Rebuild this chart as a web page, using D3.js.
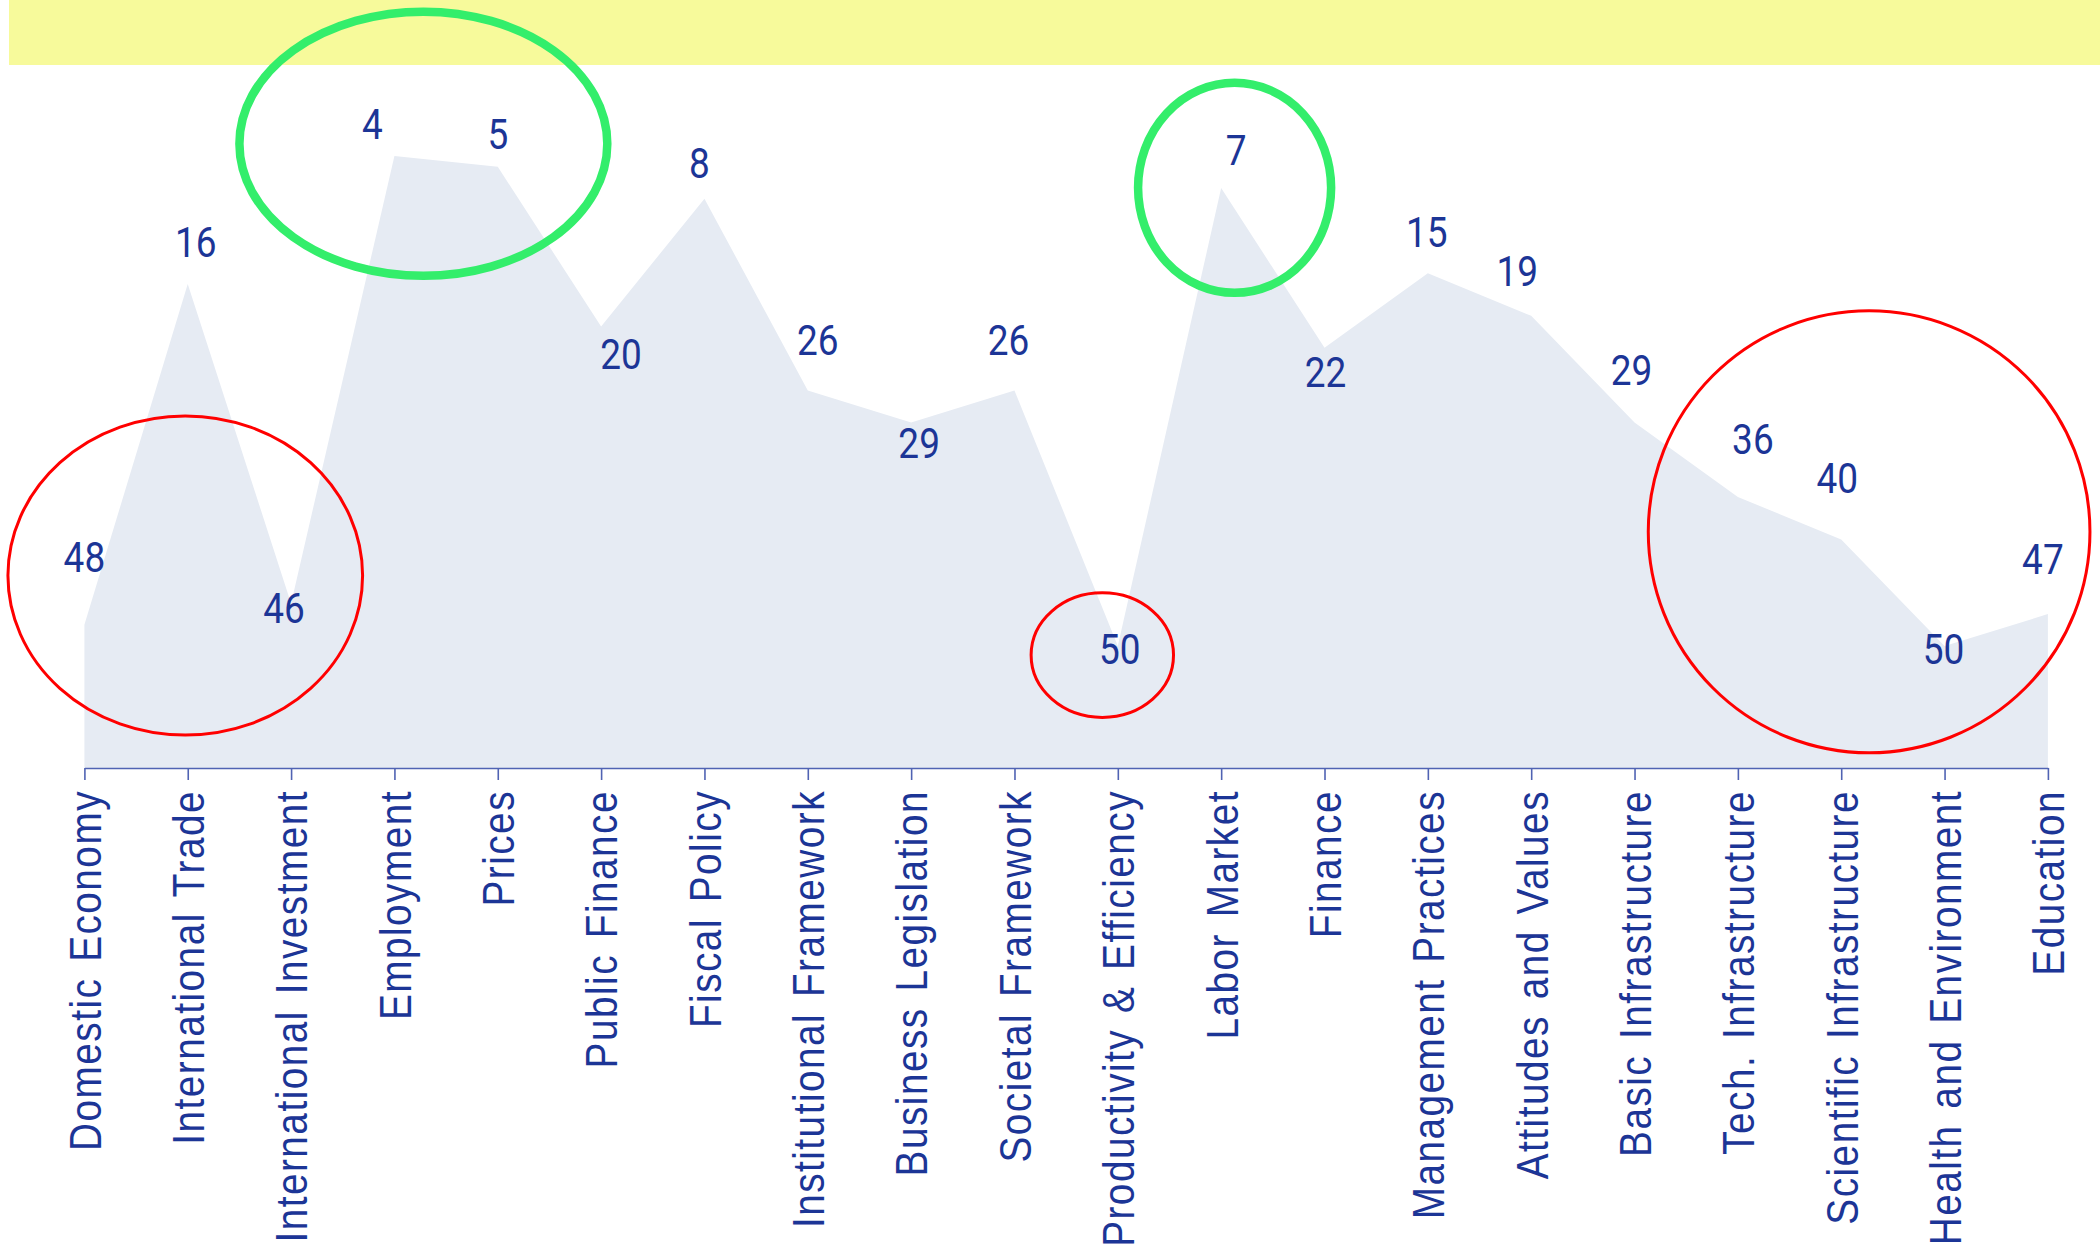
<!DOCTYPE html>
<html>
<head>
<meta charset="utf-8">
<script src="https://cdn.jsdelivr.net/npm/d3@7"></script>
<style>
  html, body { margin: 0; padding: 0; background: #ffffff; }
  svg { display: block; }
</style>
</head>
<body>
<svg id="chart" width="2100" height="1253"></svg>
<script>
// ---- data ----
const categories = [
  "Domestic Economy", "International Trade", "International Investment", "Employment",
  "Prices", "Public Finance", "Fiscal Policy", "Institutional Framework",
  "Business Legislation", "Societal Framework", "Productivity & Efficiency", "Labor Market",
  "Finance", "Management Practices", "Attitudes and Values", "Basic Infrastructure",
  "Tech. Infrastructure", "Scientific Infrastructure", "Health and Environment", "Education"
];
const ranks = [48, 16, 46, 4, 5, 20, 8, 26, 29, 26, 50, 7, 22, 15, 19, 29, 36, 40, 50, 47];

// label placement (layout only)
const labelSide = ["above","above","below","above","above","below","above","above","below","above",
                   "below","above","below","above","above","above","above","above","below","above"];
const labelDx = [0, 8, -7, -22, 0, 20, -5, 10, 8, -6, 2, 15, 1, -1, -14, -3, 15, -4, -1, -5];
const labelDy = [0, 0, -2, 0, 0, 0, 0, 0, 0, 0, 0, -4, -2, 0, 0, 0, 0, 0, 0, 12];

// highlight ellipses in data space (category index, rank) with half-spans
const bestHighlights = [
  { cat: 3.28, rank: 2.84, halfCat: 1.78, halfRank: 12.4 },
  { cat: 11.13, rank: 6.98, halfCat: 0.934, halfRank: 9.86 }
];
const worstHighlights = [
  { cat: 0.976, rank: 43.38, halfCat: 1.716, halfRank: 14.98 },
  { cat: 9.85, rank: 50.85, halfCat: 0.689, halfRank: 5.85 },
  { cat: 17.27, rank: 39.27, halfCat: 2.137, halfRank: 20.75 }
];

// ---- layout ----
const W = 2100, H = 1253;
const svg = d3.select("#chart");
const textBlue = "#1c3596";
const axisBlue = "#5063b3";

const x = d3.scalePoint().domain(categories).range([84.4, 2047.9]);
const xIdx = d3.scaleLinear().domain([0, categories.length - 1]).range(x.range());
const y = d3.scaleLinear().domain([0, 61.45]).range([113.5, 768]);
const baseY = y.range()[1];

// top banner
svg.append("rect")
  .attr("x", 9).attr("y", 0)
  .attr("width", W - 9).attr("height", 65)
  .attr("fill", "#f7fa9b");

// area
const data = categories.map((c, i) => ({ c, v: ranks[i], i }));
const area = d3.area()
  .x(d => x(d.c))
  .y0(baseY)
  .y1(d => y(d.v));
svg.append("path")
  .datum(data)
  .attr("d", area)
  .attr("fill", "#e6ebf3");

// x axis
const axisG = svg.append("g").attr("transform", `translate(0,${baseY})`);
axisG.call(d3.axisBottom(x).tickSize(12).tickSizeOuter(0).tickPadding(0));
axisG.select(".domain").attr("stroke", axisBlue).attr("stroke-width", 1.6);
axisG.selectAll(".tick line").attr("stroke", axisBlue).attr("stroke-width", 1.6);
const sx = 0.88;
axisG.selectAll(".tick text")
  .attr("transform", `rotate(-90) scale(${sx},1)`)
  .attr("x", -22 / sx)
  .attr("y", 0)
  .attr("dy", "0.36em")
  .attr("text-anchor", "end")
  .attr("fill", textBlue)
  .style("font-family", "'Liberation Sans', Arial, sans-serif")
  .style("font-size", "44px")
  .style("letter-spacing", "1.7px")
  .style("word-spacing", "4px");

// value labels
const lsx = 0.86;
svg.append("g").selectAll("text")
  .data(data)
  .join("text")
  .attr("transform", d => {
    const tx = x(d.c) + labelDx[d.i];
    const ty = (labelSide[d.i] === "above"
      ? y(d.v) - 28 - 0.82 * d.v
      : y(d.v) + 45 - 0.82 * d.v) + labelDy[d.i];
    return `translate(${tx},${ty}) scale(${lsx},1)`;
  })
  .attr("dy", "0.33em")
  .attr("text-anchor", "middle")
  .attr("fill", textBlue)
  .style("font-family", "Roboto, 'Noto Sans', sans-serif")
  .style("font-weight", 400)
  .style("font-size", "43px")
  .text(d => d.v);

// highlight ellipses
function drawEllipses(list, color, width) {
  svg.append("g").selectAll("ellipse")
    .data(list)
    .join("ellipse")
    .attr("cx", d => xIdx(d.cat))
    .attr("cy", d => y(d.rank))
    .attr("rx", d => xIdx(d.cat + d.halfCat) - xIdx(d.cat))
    .attr("ry", d => y(d.rank + d.halfRank) - y(d.rank))
    .attr("fill", "none")
    .attr("stroke", color)
    .attr("stroke-width", width);
}
drawEllipses(bestHighlights, "#33ee6b", 8.5);
drawEllipses(worstHighlights, "#ff0000", 3);
</script>
</body>
</html>
